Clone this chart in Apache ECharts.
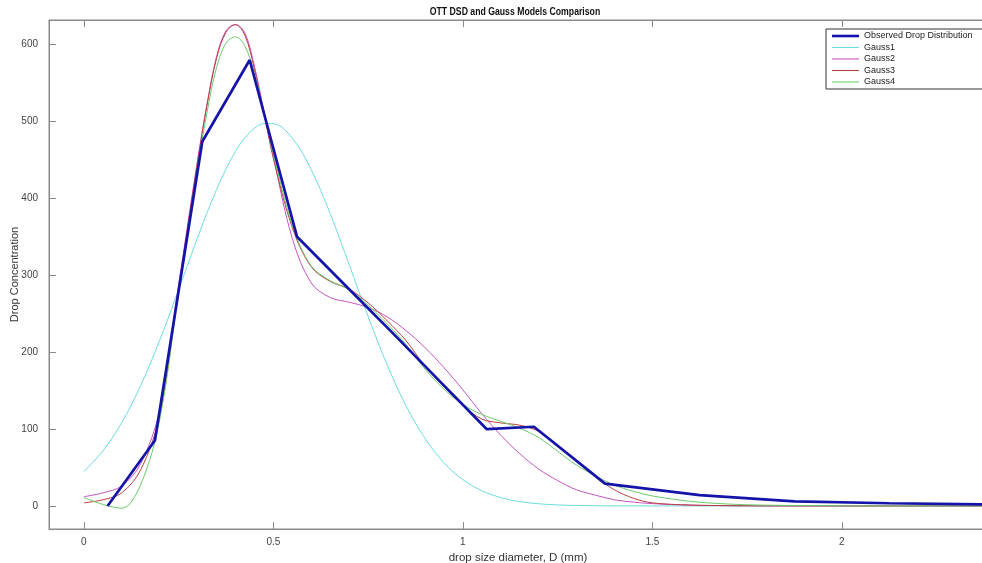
<!DOCTYPE html>
<html><head><meta charset="utf-8">
<script src="https://cdn.jsdelivr.net/npm/echarts@6/dist/echarts.min.js"></script>
<style>html,body{margin:0;padding:0;background:#fff}#c{width:982px;height:563px}</style>
</head><body><div id="c"></div>
<script>
const titleText = 'OTT DSD and Gauss Models Comparison';
const xName = 'drop size diameter, D (mm)';
const yName = 'Drop Concentration';
const seriesNames = ['Observed Drop Distribution', 'Gauss1', 'Gauss2', 'Gauss3', 'Gauss4'];

// Observed drop distribution (class centres, mm)
const obsX = [0.0625, 0.1875, 0.3125, 0.4375, 0.5625, 0.6875, 0.8125, 0.9375, 1.0625, 1.1875, 1.375, 1.625, 1.875, 2.125, 2.375];
const obsY = [0, 85, 474, 580, 350, 288, 226, 163, 100, 103, 29, 14, 6, 3.5, 2];

// Fitted model curves, sampled at these diameters
const gx = [0, 0.05, 0.1, 0.15, 0.2, 0.25, 0.3, 0.325, 0.35, 0.375, 0.4, 0.425, 0.45, 0.475, 0.5, 0.55, 0.6, 0.65, 0.7, 0.75, 0.8, 0.85, 0.9, 0.95, 1.0, 1.05, 1.1, 1.15, 1.2, 1.25, 1.3, 1.35, 1.4, 1.45, 1.5, 1.6, 1.7, 1.8, 2.0, 2.2, 2.4];
const gauss1 = [44.6, 71.4, 108.5, 156.8, 215.4, 281.2, 348.9, 381.3, 411.4, 438.3, 461.1, 478.9, 491.1, 497.3, 497.2, 478.3, 437.3, 380.1, 313.9, 246.4, 183.8, 130.3, 87.8, 56.2, 34.2, 19.8, 10.9, 5.7, 2.8, 1.3, 0.6, 0.26, 0.1, 0.04, 0.01, 0, 0, 0, 0, 0, 0];
const gauss2 = [12, 17, 26, 55, 125, 288, 450, 523, 584, 618, 626, 615, 572, 514, 454, 348, 290, 271, 265, 258, 246, 228, 206, 180, 151, 120, 92, 68, 48, 33, 21, 14, 8, 5, 3, 1, 0.3, 0.1, 0, 0, 0];
const gauss3 = [4, 8, 17, 47, 118, 282, 447, 521, 582, 616, 626, 612, 568, 511, 452, 362, 311, 292, 282, 264, 241, 215, 182, 155, 131, 113, 108, 105, 97, 79, 58, 38, 21, 10, 4, 1.2, 0.4, 0.1, 0, 0, 0];
const gauss4 = [11, 2, -3, 28, 112, 278, 440, 512, 570, 602, 610, 598, 562, 512, 458, 365, 312, 293, 281, 261, 237, 210, 178, 152, 132, 119, 110, 101, 89, 71, 53, 39, 27, 19, 13, 6, 2.5, 1, 0.2, 0, 0];

const colors = ['#1414aa', '#6fdcdc', '#c655c6', '#b84040', '#6ccc6c'];
const FONT = "'Liberation Sans', Arial, sans-serif";

const chart = echarts.init(document.getElementById('c'), null, {renderer: 'canvas'});
const pair = (xs, ys) => xs.map((x, i) => [x, ys[i]]);
const curves = [gauss1, gauss2, gauss3, gauss4];

const series = [];
curves.forEach((c, i) => {
  series.push({
    name: seriesNames[i + 1], type: 'line', data: pair(gx, c),
    smooth: 0.35, symbol: 'none', showSymbol: false, z: 2 + i,
    lineStyle: {color: colors[i + 1], width: 1},
    itemStyle: {color: colors[i + 1]}
  });
});
series.push({
  name: seriesNames[0], type: 'line', data: pair(obsX, obsY),
  symbol: 'none', showSymbol: false, z: 10,
  lineStyle: {color: colors[0], width: 2.7},
  itemStyle: {color: colors[0]}
});

const axisCommon = {
  nameMoveOverlap: false,
  axisLine: {show: true, onZero: false, lineStyle: {color: '#8a8a8a', width: 1}},
  axisTick: {show: true, inside: true, length: 7, lineStyle: {color: '#8a8a8a'}},
  splitLine: {show: false},
  axisLabel: {color: '#444', fontFamily: FONT, fontSize: 10, showMinLabel: false, showMaxLabel: false}
};

const thinIcon = 'path://M0,0 L27,0 L27,1.1 L0,1.1 Z';
const thickIcon = 'path://M0,0 L27,0 L27,2.6 L0,2.6 Z';

chart.setOption({
  animation: false,
  backgroundColor: '#fff',
  graphic: [{
    type: 'text', x: 515, y: 12, scaleX: 0.79, z: 100,
    style: {text: titleText, fontFamily: FONT, fontSize: 11, fontWeight: 'bold', fill: '#111',
      align: 'center', verticalAlign: 'middle'}
  }],
  grid: {left: 49, right: -5, top: 20, bottom: 34, outerBoundsMode: 'none', containLabel: false,
    show: true, borderColor: '#8a8a8a', borderWidth: 1, backgroundColor: '#fff'},
  legend: {
    data: seriesNames.map((n, i) => ({name: n, icon: i === 0 ? thickIcon : thinIcon})),
    orient: 'vertical', left: 826, top: 29,
    padding: [2, 12, 2, 6], itemGap: 1.5, itemWidth: 27, itemHeight: 10,
    backgroundColor: '#fff', borderColor: '#333', borderWidth: 1, borderRadius: 0,
    textStyle: {fontFamily: FONT, fontSize: 9, color: '#222', lineHeight: 10}
  },
  xAxis: [
    Object.assign({}, axisCommon, {
      type: 'value', min: -0.092, max: 2.383, splitNumber: 5, position: 'bottom',
      name: xName, nameLocation: 'middle', nameGap: 23,
      nameTextStyle: {fontFamily: FONT, fontSize: 11.5, color: '#333'},
      axisLabel: Object.assign({}, axisCommon.axisLabel, {margin: 8})
    }),
    Object.assign({}, axisCommon, {
      type: 'value', min: -0.092, max: 2.383, splitNumber: 5, position: 'top',
      axisLabel: {show: false}
    })
  ],
  yAxis: {
    ...axisCommon,
    type: 'value', min: -30, max: 632, splitNumber: 7,
    name: yName, nameLocation: 'middle', nameGap: 29,
    nameTextStyle: {fontFamily: FONT, fontSize: 11, color: '#333'},
    axisLabel: Object.assign({}, axisCommon.axisLabel, {margin: 11})
  },
  series: series
});
</script>
</body></html>
